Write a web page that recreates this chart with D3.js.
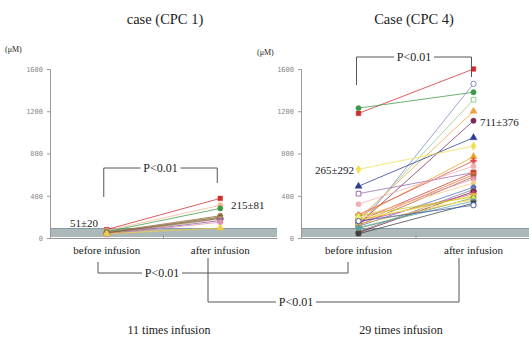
<!DOCTYPE html>
<html>
<head>
<meta charset="utf-8">
<script src="https://cdn.jsdelivr.net/npm/d3@7"></script>
<style>
  body { margin: 0; background: #fff; }
  svg { display: block; }
  .serif { font-family: 'Liberation Serif', 'Times New Roman', serif; }
</style>
</head>
<body>
<div id="chart"></div>
<script>
// categories and ticks
const categories = ['before infusion', 'after infusion'];
const yTicks = [0, 400, 800, 1200, 1600];
const normalRange = [0, 90];

// CPC 1 (11 infusions)
const cpc1Before = [80, 70, 60, 55, 50, 50, 45, 40, 35, 35, 40];
const cpc1After = [375, 310, 280, 210, 200, 195, 185, 180, 165, 150, 95];
const cpc1Colors = ['#d42a2a', '#f4b890', '#3c9a46', '#9a6a40', '#8a8a40', '#a07050', '#604830', '#c0a070', '#8a60a0', '#e090b0', '#f0d040'];
const cpc1Shapes = ['square', 'circle', 'circle', 'circle', 'square', 'triangle', 'cross', 'circle', 'square', 'circle', 'triangle'];

// CPC 4 (29 infusions)
const cpc4Before = [1180, 1230, 100, 150, 180, 130, 490, 650, 200, 220, 420, 320, 160, 140, 120, 180, 200, 110, 60, 50, 150, 170, 210, 90, 130, 190, 100, 40, 160];
const cpc4After = [1600, 1380, 1460, 1310, 1200, 1110, 950, 870, 770, 730, 620, 680, 620, 600, 580, 560, 520, 480, 460, 440, 420, 400, 390, 380, 370, 360, 350, 330, 310];
const cpc4Colors = ['#d42a2a', '#3c9a46', '#8088c0', '#88cc88', '#f0a040', '#7a2a5a', '#2a3a9a', '#f0e050', '#f0a020', '#e04848',
  '#9a6aa8', '#f0b0b0', '#c83a2a', '#e07030', '#a06040', '#e890b0', '#f8c880', '#5a6ac0', '#7080a0', '#802030',
  '#d04890', '#f0d020', '#c8c820', '#60a060', '#f0b040', '#f0f080', '#60a0a0', '#404040', '#4060b0'];
const cpc4Shapes = ['square', 'circle', 'ocircle', 'osquare', 'triangle', 'circle', 'triangle', 'diamond', 'triangle', 'cross',
  'osquare', 'circle', 'square', 'circle', 'square', 'circle', 'diamond', 'circle', 'triangle', 'circle',
  'cross', 'square', 'circle', 'circle', 'triangle', 'diamond', 'circle', 'square', 'ocircle'];

const width = 529, height = 337;

const svg = d3.select('#chart').append('svg')
  .attr('width', width)
  .attr('height', height);

const y = d3.scaleLinear().domain([0, 1600]).range([238, 69]);

const symbolFor = {
  square: d3.symbolSquare, osquare: d3.symbolSquare,
  circle: d3.symbolCircle, ocircle: d3.symbolCircle,
  triangle: d3.symbolTriangle, diamond: d3.symbolDiamond, cross: d3.symbolCross
};

function label(g, x, yy, txt, size, anchor) {
  return g.append('text')
    .attr('class', 'serif')
    .attr('x', x).attr('y', yy)
    .attr('text-anchor', anchor || 'start')
    .attr('font-size', size)
    .attr('fill', '#222')
    .text(txt);
}

function drawPanel(opts) {
  const x = d3.scalePoint().domain(categories).range([opts.x0, opts.x1]).padding(0.5);
  const g = svg.append('g');

  // normal range band
  g.append('rect')
    .attr('x', opts.x0)
    .attr('y', y(normalRange[1]))
    .attr('width', opts.x1 - opts.x0)
    .attr('height', y(normalRange[0]) - y(normalRange[1]) - 1)
    .attr('fill', '#adb9b8');
  g.append('line')
    .attr('x1', opts.x0).attr('x2', opts.x1)
    .attr('y1', y(normalRange[1])).attr('y2', y(normalRange[1]))
    .attr('stroke', '#8098a8').attr('stroke-width', 1);

  // y axis
  const yAxis = g.append('g')
    .attr('transform', `translate(${opts.x0},0)`)
    .call(d3.axisLeft(y).tickValues(yTicks).tickFormat(d3.format('d')).tickSize(3).tickPadding(4));
  yAxis.selectAll('path, line').attr('stroke', '#999');
  yAxis.selectAll('text')
    .attr('fill', '#8a8a8a')
    .attr('font-family', 'DejaVu Sans Mono, monospace')
    .attr('font-size', '7px');

  // x axis
  const xAxis = g.append('g')
    .attr('transform', `translate(0,${y(0)})`)
    .call(d3.axisBottom(x).tickSize(0).tickFormat(''));
  xAxis.select('path').attr('stroke', '#999');
  const mid = (x(categories[0]) + x(categories[1])) / 2;
  g.append('line')
    .attr('x1', mid).attr('x2', mid)
    .attr('y1', y(0)).attr('y2', y(0) - 3)
    .attr('stroke', '#999');

  categories.forEach(c => label(g, x(c), 254, c, '11px', 'middle'));

  label(g, opts.unitX, opts.unitY, '(μM)', '8px');
  label(g, opts.titleX, 24, opts.title, '14.5px', 'middle');

  // lines
  const line = d3.line().x(d => x(d[0])).y(d => y(d[1]));
  opts.before.forEach((b, i) => {
    g.append('path')
      .attr('d', line([[categories[0], b], [categories[1], opts.after[i]]]))
      .attr('fill', 'none')
      .attr('stroke', opts.colors[i])
      .attr('stroke-width', 0.9)
      .attr('opacity', 0.85);
  });

  // markers
  const pts = [];
  opts.before.forEach((b, i) => {
    pts.push({ c: categories[0], v: b, i });
    pts.push({ c: categories[1], v: opts.after[i], i });
  });
  g.selectAll('.pt').data(pts).enter().append('path')
    .attr('class', 'pt')
    .attr('transform', d => `translate(${x(d.c)},${y(d.v)})`)
    .attr('d', d => d3.symbol().type(symbolFor[opts.shapes[d.i]]).size(opts.shapes[d.i] === 'cross' ? 18 : 22)())
    .attr('fill', d => opts.shapes[d.i][0] === 'o' ? '#fff' : opts.colors[d.i])
    .attr('stroke', d => opts.colors[d.i])
    .attr('stroke-width', d => opts.shapes[d.i][0] === 'o' ? 1 : 0.4);

  // mean labels
  opts.means.forEach(m => label(g, m.x, m.y, m.t, '11px'));

  return x;
}

function pText(x, yy) {
  svg.append('rect')
    .attr('x', x - 20).attr('y', yy - 7)
    .attr('width', 40).attr('height', 14)
    .attr('fill', '#fff');
  label(svg, x, yy + 4, 'P<0.01', '12px', 'middle');
}

function bracket(points) {
  svg.append('path')
    .attr('d', d3.line()(points))
    .attr('fill', 'none')
    .attr('stroke', '#555')
    .attr('stroke-width', 1);
}

const xL = drawPanel({
  x0: 50, x1: 277, title: 'case (CPC 1)', titleX: 165, unitX: 5, unitY: 52,
  before: cpc1Before, after: cpc1After, colors: cpc1Colors, shapes: cpc1Shapes,
  means: [{ t: '51±20', x: 70, y: 227 }, { t: '215±81', x: 231, y: 209 }]
});

const xR = drawPanel({
  x0: 301, x1: 531, title: 'Case (CPC 4)', titleX: 414, unitX: 257, unitY: 55,
  before: cpc4Before, after: cpc4After, colors: cpc4Colors, shapes: cpc4Shapes,
  means: [{ t: '265±292', x: 315, y: 174 }, { t: '711±376', x: 480, y: 126 }]
});

// top brackets
const lb = xL(categories[0]) - 3, la = xL(categories[1]) - 3;
bracket([[lb, 197], [lb, 168], [la, 168], [la, 183]]);
pText((lb + la) / 2, 168);

const rb = xR(categories[0]) - 2, ra = xR(categories[1]) - 2;
bracket([[rb, 85], [rb, 57], [ra, 57], [ra, 77]]);
pText((rb + ra) / 2, 57);

// bottom brackets
bracket([[98, 262], [98, 273], [348, 273], [348, 262]]);
pText(162, 273);

bracket([[208, 258], [208, 302], [459, 302], [459, 258]]);
pText(296, 302);

// footer
label(svg, 169, 334, '11 times infusion', '12px', 'middle');
label(svg, 401, 334, '29 times infusion', '12px', 'middle');
</script>
</body>
</html>
